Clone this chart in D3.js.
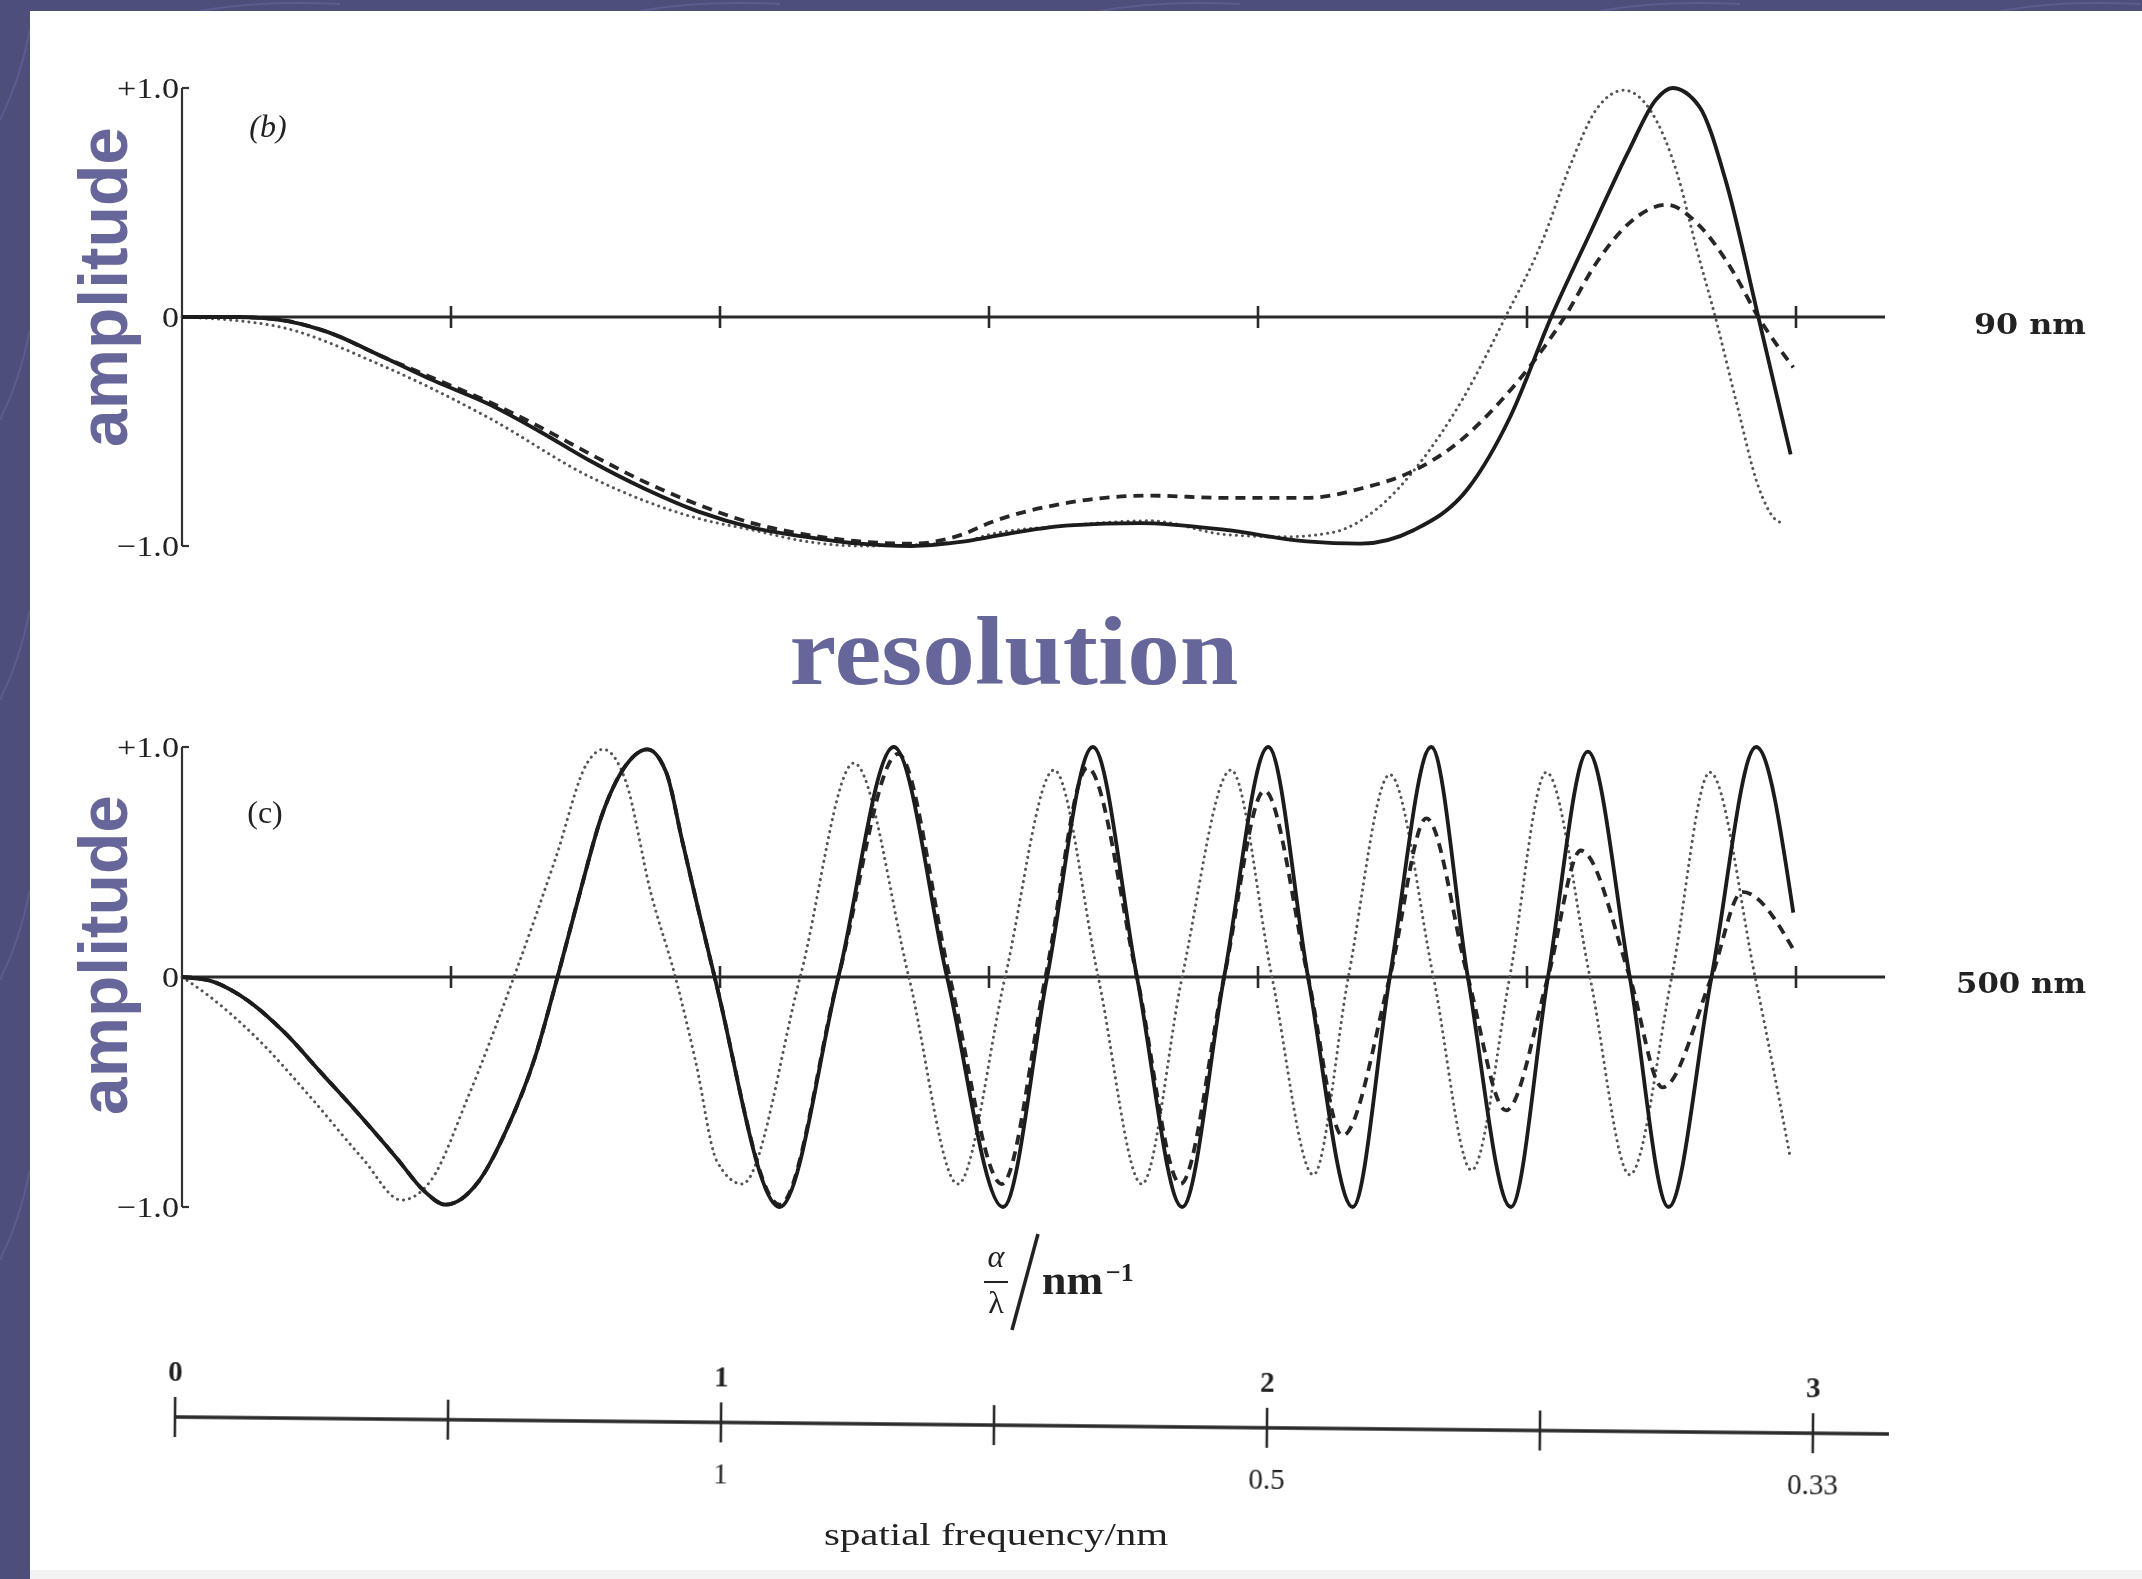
<!DOCTYPE html>
<html>
<head>
<meta charset="utf-8">
<script src="https://cdn.jsdelivr.net/npm/d3@7"></script>
<style>
  html, body { margin: 0; padding: 0; background: #ffffff; overflow: hidden; }
</style>
</head>
<body>
<script>
///////////////////////////////////////////////////
// Daten
///////////////////////////////////////////////////

// x: alpha/lambda in nm^-1, y: amplitude
const xTicks = [0, 0.5, 1, 1.5, 2, 2.5, 3];
const yTicks = [1, 0, -1];
const yTickLabels = ['+1.0', '0', '\u22121.0'];

const freqTopTicks = [0, 1, 2, 3];
const freqTopLabels = ['0', '1', '2', '3'];
const freqBottomTicks = [1, 2, 3];
const freqBottomLabels = ['1', '0.5', '0.33'];

// (b) 90 nm
const b90Solid = [
  [0, 0], [0.1, 0], [0.175, -0.01], [0.27, -0.065], [0.37, -0.17], [0.47, -0.28],
  [0.57, -0.38], [0.665, -0.5], [0.76, -0.63], [0.86, -0.75], [0.96, -0.85],
  [1.06, -0.92], [1.16, -0.96], [1.26, -0.99], [1.355, -1.0], [1.455, -0.98],
  [1.55, -0.94], [1.65, -0.91], [1.78, -0.9], [1.94, -0.93], [2.09, -0.98],
  [2.19, -0.99], [2.29, -0.93], [2.39, -0.75], [2.47, -0.43], [2.545, 0],
  [2.62, 0.38], [2.69, 0.73], [2.74, 0.95], [2.77, 1.0], [2.82, 0.92],
  [2.87, 0.59], [2.93, 0], [2.99, -0.6],
];
const b90Dashed = [
  [0, 0], [0.1, 0], [0.175, -0.01], [0.27, -0.065], [0.37, -0.17], [0.47, -0.27],
  [0.57, -0.37], [0.665, -0.48], [0.76, -0.6], [0.86, -0.72], [0.96, -0.82],
  [1.06, -0.9], [1.16, -0.95], [1.26, -0.98], [1.355, -0.99], [1.45, -0.95],
  [1.5, -0.9], [1.65, -0.81], [1.8, -0.78], [1.94, -0.79], [2.09, -0.79],
  [2.19, -0.75], [2.29, -0.67], [2.36, -0.57], [2.45, -0.37], [2.52, -0.17],
  [2.57, 0], [2.63, 0.24], [2.69, 0.41], [2.76, 0.49], [2.82, 0.4],
  [2.88, 0.21], [2.93, 0], [2.995, -0.22],
];
const b90Dotted = [
  [0, 0], [0.175, -0.04], [0.37, -0.21], [0.57, -0.44], [0.76, -0.7], [0.96, -0.88],
  [1.06, -0.93], [1.16, -0.98], [1.26, -1.0], [1.455, -0.98], [1.5, -0.95],
  [1.65, -0.91], [1.8, -0.89], [1.94, -0.95], [2.05, -0.96], [2.14, -0.94],
  [2.22, -0.84], [2.3, -0.64], [2.38, -0.36], [2.46, 0], [2.53, 0.34],
  [2.58, 0.66], [2.63, 0.91], [2.68, 0.99], [2.73, 0.9], [2.78, 0.62],
  [2.815, 0.3], [2.85, 0], [2.89, -0.38], [2.93, -0.74], [2.96, -0.88], [2.975, -0.9],
];

// (c) 500 nm
const c500Solid = [
  [0, 0], [0.05, -0.015], [0.108, -0.08], [0.19, -0.24], [0.26, -0.42], [0.33, -0.6],
  [0.4, -0.79], [0.45, -0.93], [0.49, -0.99], [0.551, -0.89], [0.604, -0.66],
  [0.656, -0.35], [0.698, 0], [0.74, 0.37], [0.78, 0.7], [0.825, 0.92], [0.865, 0.99],
  [0.9, 0.89], [0.93, 0.59], [0.96, 0.29], [0.99, 0], [1.111, -1.0], [1.22, 0],
  [1.323, 1.0], [1.422, 0], [1.526, -1.0], [1.608, 0], [1.693, 1.0], [1.775, 0],
  [1.859, -1.0], [1.937, 0], [2.019, 1.0], [2.093, 0], [2.176, -1.0], [2.245, 0],
  [2.322, 1.0], [2.39, 0], [2.47, -1.0], [2.539, 0], [2.613, 0.98], [2.691, 0],
  [2.763, -1.0], [2.843, 0], [2.926, 1.0], [2.995, 0.28],
];
const c500Dashed = [
  [0, 0], [0.05, -0.015], [0.108, -0.08], [0.19, -0.24], [0.26, -0.42], [0.33, -0.6],
  [0.4, -0.79], [0.45, -0.93], [0.49, -0.99], [0.551, -0.89], [0.604, -0.66],
  [0.656, -0.35], [0.698, 0], [0.74, 0.37], [0.78, 0.7], [0.825, 0.92], [0.865, 0.99],
  [0.9, 0.89], [0.93, 0.59], [0.96, 0.29], [0.99, 0], [1.111, -0.99], [1.22, 0],
  [1.331, 0.97], [1.427, 0], [1.524, -0.9], [1.605, 0], [1.683, 0.91], [1.775, 0],
  [1.856, -0.9], [1.937, 0], [2.012, 0.81], [2.093, 0], [2.157, -0.69], [2.245, 0],
  [2.313, 0.69], [2.39, 0], [2.461, -0.58], [2.539, 0], [2.6, 0.55], [2.691, 0],
  [2.752, -0.48], [2.843, 0], [2.9, 0.37], [3.0, 0.1],
];
const c500Dotted = [
  [0, 0], [0.043, -0.07], [0.141, -0.27], [0.238, -0.52], [0.336, -0.79],
  [0.408, -0.97], [0.461, -0.89], [0.532, -0.52], [0.617, 0], [0.695, 0.52],
  [0.753, 0.93], [0.783, 0.99], [0.825, 0.85], [0.871, 0.37], [0.917, 0],
  [0.955, -0.37], [0.994, -0.8], [1.041, -0.9], [1.149, 0], [1.249, 0.93],
  [1.351, 0], [1.442, -0.9], [1.53, 0], [1.621, 0.9], [1.703, 0], [1.784, -0.9],
  [1.859, 0], [1.95, 0.9], [2.026, 0], [2.103, -0.86], [2.168, 0], [2.245, 0.88],
  [2.326, 0], [2.397, -0.84], [2.468, 0], [2.536, 0.89], [2.617, 0], [2.691, -0.86],
  [2.769, 0], [2.84, 0.89], [2.924, 0], [2.989, -0.78],
];

///////////////////////////////////////////////////
// Grundflaeche
///////////////////////////////////////////////////

const width = 2142;
const height = 1579;
const purple = '#4e4e7b';
const labelColor = '#66669a';
const ink = '#1a1a1a';

const svg = d3
  .select('body')
  .append('svg')
  .attr('width', width)
  .attr('height', height);

const defs = svg.append('defs');
defs
  .append('filter')
  .attr('id', 'scan')
  .append('feGaussianBlur')
  .attr('stdDeviation', 0.7);

// dunkler Rahmen links und oben
svg.append('rect').attr('width', width).attr('height', height).attr('fill', purple);

// leichte Muster im Rahmen
const deco = svg.append('g').attr('stroke', '#65659a').attr('stroke-width', 2).attr('fill', 'none').attr('opacity', 0.6);
[120, 420, 700, 980, 1260].forEach((y0) => {
  deco.append('path').attr('d', `M0,${y0} Q20,${y0 - 40} 30,${y0 - 90}`);
});
[200, 640, 1100, 1600, 2000].forEach((x0) => {
  deco.append('path').attr('d', `M${x0},11 Q${x0 + 60},0 ${x0 + 140},4`);
});

svg.append('rect').attr('x', 30).attr('y', 11).attr('width', width - 30).attr('height', height - 11).attr('fill', '#ffffff');
svg.append('rect').attr('x', 30).attr('y', 1570).attr('width', width - 30).attr('height', 9).attr('fill', '#f3f3f3');

///////////////////////////////////////////////////
// Skalen
///////////////////////////////////////////////////

const x = d3.scaleLinear().domain([0, 3]).range([182, 1796]);
const axisEnd = 1885;

const panels = [
  {
    y: d3.scaleLinear().domain([-1, 1]).range([546, 88]),
    tag: '(b)',
    tagItalic: true,
    tagPos: [268, 137],
    size: '90 nm',
    sizeLen: 112,
    sizeY: 334,
    solid: b90Solid,
    dashed: b90Dashed,
    dotted: b90Dotted,
    ampY: 287,
  },
  {
    y: d3.scaleLinear().domain([-1, 1]).range([1207, 747]),
    tag: '(c)',
    tagItalic: false,
    tagPos: [265, 823],
    size: '500 nm',
    sizeLen: 130,
    sizeY: 993,
    solid: c500Solid,
    dashed: c500Dashed,
    dotted: c500Dotted,
    ampY: 955,
  },
];

///////////////////////////////////////////////////
// Panels zeichnen
///////////////////////////////////////////////////

panels.forEach((p) => {
  const g = svg.append('g').attr('filter', 'url(#scan)');
  const y = p.y;

  // y-Achse
  g.append('line')
    .attr('x1', x(0)).attr('x2', x(0))
    .attr('y1', y(1)).attr('y2', y(-1))
    .attr('stroke', '#333').attr('stroke-width', 2.2);

  g.selectAll('.ytick')
    .data(yTicks)
    .join('line')
    .attr('x1', x(0)).attr('x2', x(0) + 7)
    .attr('y1', (d) => y(d)).attr('y2', (d) => y(d))
    .attr('stroke', '#333').attr('stroke-width', 2.2);

  g.selectAll('.ylabel')
    .data(yTicks)
    .join('text')
    .attr('x', x(0) - 3)
    .attr('y', (d) => y(d) + 10)
    .attr('text-anchor', 'end')
    .attr('font-family', 'Liberation Serif, serif')
    .attr('font-size', 30)
    .attr('fill', '#222')
    .attr('textLength', (d, i) => (i === 1 ? 17 : 62))
    .attr('lengthAdjust', 'spacingAndGlyphs')
    .text((d, i) => yTickLabels[i]);

  // Nulllinie mit Strichen
  g.append('line')
    .attr('x1', x(0)).attr('x2', axisEnd)
    .attr('y1', y(0)).attr('y2', y(0))
    .attr('stroke', '#2a2a2a').attr('stroke-width', 3.2);

  g.selectAll('.xtick')
    .data(xTicks.slice(1))
    .join('line')
    .attr('x1', (d) => x(d)).attr('x2', (d) => x(d))
    .attr('y1', y(0) - 11).attr('y2', y(0) + 11)
    .attr('stroke', '#2a2a2a').attr('stroke-width', 2.6);

  const line = d3
    .line()
    .x((d) => x(d[0]))
    .y((d) => y(d[1]))
    .curve(d3.curveMonotoneX);

  g.append('path')
    .datum(p.dotted)
    .attr('d', line)
    .attr('fill', 'none')
    .attr('stroke', '#555')
    .attr('stroke-width', 3)
    .attr('stroke-linecap', 'round')
    .attr('stroke-dasharray', '0.1,6');

  g.append('path')
    .datum(p.dashed)
    .attr('d', line)
    .attr('fill', 'none')
    .attr('stroke', '#262626')
    .attr('stroke-width', 3.8)
    .attr('stroke-dasharray', '10,7');

  g.append('path')
    .datum(p.solid)
    .attr('d', line)
    .attr('fill', 'none')
    .attr('stroke', ink)
    .attr('stroke-width', 3.8);

  // Beschriftungen
  g.append('text')
    .attr('x', p.tagPos[0])
    .attr('y', p.tagPos[1])
    .attr('text-anchor', 'middle')
    .attr('font-family', 'Liberation Serif, serif')
    .attr('font-style', p.tagItalic ? 'italic' : 'normal')
    .attr('font-size', 32)
    .attr('fill', '#222')
    .text(p.tag);

  g.append('text')
    .attr('x', 2086)
    .attr('y', p.sizeY)
    .attr('text-anchor', 'end')
    .attr('font-family', 'DejaVu Serif, serif')
    .attr('font-weight', 'bold')
    .attr('font-size', 27)
    .attr('fill', '#222')
    .attr('textLength', p.sizeLen)
    .attr('lengthAdjust', 'spacingAndGlyphs')
    .text(p.size);

  svg.append('text')
    .attr('transform', `translate(127,${p.ampY}) rotate(-90)`)
    .attr('text-anchor', 'middle')
    .attr('font-family', 'Liberation Sans, Arial, sans-serif')
    .attr('font-weight', 'bold')
    .attr('font-size', 68)
    .attr('fill', labelColor)
    .attr('textLength', 320)
    .attr('lengthAdjust', 'spacingAndGlyphs')
    .text('amplitude');
});

// Titel zwischen den Panels
svg.append('text')
  .attr('x', 1014)
  .attr('y', 684)
  .attr('text-anchor', 'middle')
  .attr('font-family', 'Liberation Serif, serif')
  .attr('font-weight', 'bold')
  .attr('font-size', 98)
  .attr('fill', labelColor)
  .attr('textLength', 449)
  .attr('lengthAdjust', 'spacingAndGlyphs')
  .text('resolution');

///////////////////////////////////////////////////
// alpha/lambda Beschriftung
///////////////////////////////////////////////////

const unit = svg.append('g').attr('filter', 'url(#scan)').attr('fill', '#222').attr('font-family', 'Liberation Serif, serif');
unit.append('text').attr('x', 996).attr('y', 1267).attr('text-anchor', 'middle').attr('font-size', 32).attr('font-style', 'italic').text('\u03b1');
unit.append('line').attr('x1', 984).attr('x2', 1008).attr('y1', 1282).attr('y2', 1282).attr('stroke', '#222').attr('stroke-width', 2);
unit.append('text').attr('x', 996).attr('y', 1313).attr('text-anchor', 'middle').attr('font-size', 32).text('\u03bb');
unit.append('line').attr('x1', 1038).attr('y1', 1234).attr('x2', 1012).attr('y2', 1330).attr('stroke', '#222').attr('stroke-width', 3.5);
unit.append('text').attr('x', 1042).attr('y', 1294).attr('font-size', 42).attr('font-weight', 'bold').attr('textLength', 61).attr('lengthAdjust', 'spacingAndGlyphs').text('nm');
unit.append('text').attr('x', 1106).attr('y', 1281).attr('font-size', 26).attr('font-weight', 'bold').text('\u22121');

///////////////////////////////////////////////////
// Frequenzachse unten (leicht schraeg gescannt)
///////////////////////////////////////////////////

const xf = d3.scaleLinear().domain([0, 3]).range([175, 1813]);
const baseY = 1417;
const tilt = (Math.atan2(17, 1714) * 180) / Math.PI;

const fg = svg
  .append('g')
  .attr('filter', 'url(#scan)')
  .attr('transform', `rotate(${tilt},${xf(0)},${baseY})`);

fg.append('line')
  .attr('x1', xf(0)).attr('x2', 1889)
  .attr('y1', baseY).attr('y2', baseY)
  .attr('stroke', '#2a2a2a').attr('stroke-width', 3.4);

fg.selectAll('.ftick')
  .data(xTicks)
  .join('line')
  .attr('x1', (d) => xf(d)).attr('x2', (d) => xf(d))
  .attr('y1', baseY - 20).attr('y2', baseY + 20)
  .attr('stroke', '#2a2a2a').attr('stroke-width', 2.6);

fg.selectAll('.ftop')
  .data(freqTopTicks)
  .join('text')
  .attr('x', (d) => xf(d))
  .attr('y', baseY - 36)
  .attr('text-anchor', 'middle')
  .attr('font-family', 'Liberation Serif, serif')
  .attr('font-weight', 'bold')
  .attr('font-size', 29)
  .attr('fill', '#222')
  .text((d, i) => freqTopLabels[i]);

fg.selectAll('.fbottom')
  .data(freqBottomTicks)
  .join('text')
  .attr('x', (d) => xf(d))
  .attr('y', baseY + 61)
  .attr('text-anchor', 'middle')
  .attr('font-family', 'Liberation Serif, serif')
  .attr('font-size', 29)
  .attr('fill', '#222')
  .text((d, i) => freqBottomLabels[i]);

svg.append('text')
  .attr('x', 996)
  .attr('y', 1545)
  .attr('text-anchor', 'middle')
  .attr('font-family', 'Liberation Serif, serif')
  .attr('font-size', 31)
  .attr('fill', '#222')
  .attr('filter', 'url(#scan)')
  .attr('textLength', 344)
  .attr('lengthAdjust', 'spacingAndGlyphs')
  .text('spatial frequency/nm');
</script>
</body>
</html>
